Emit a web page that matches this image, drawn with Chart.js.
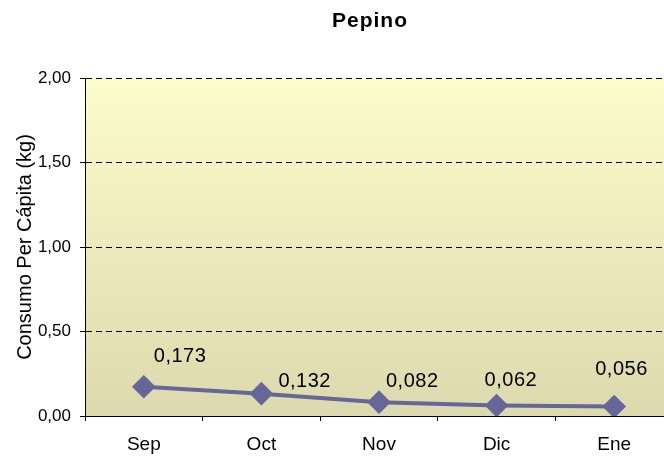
<!DOCTYPE html>
<html>
<head>
<meta charset="utf-8">
<script src="https://cdn.jsdelivr.net/npm/chart.js@4/dist/chart.umd.min.js"></script>
<style>
    html, body { margin: 0; padding: 0; background: #fff; overflow: hidden; width: 664px; height: 461px; }
    canvas { display: block; }
</style>
</head>
<body>
<canvas id="pepinoChart" width="673" height="461"></canvas>
<script>
    // 資料
    const months = ['Sep', 'Oct', 'Nov', 'Dic', 'Ene'];
    const consumo = [0.173, 0.132, 0.082, 0.062, 0.056];
    const yTicks = [0, 0.5, 1, 1.5, 2];

    // 標籤偏移 (px)
    const labelOffset = [[10, -30], [17, -12], [7, -21], [-12, -25], [-19, -37]];

    const lineColor = '#666699';
    const fontFamily = '"Liberation Sans", Arial, sans-serif';
    const fmt = v => v.toFixed(2).replace('.', ',');

    // 背景漸層
    const bgPlugin = {
        id: 'bgGradient',
        beforeDraw(chart) {
            const { ctx, chartArea: a } = chart;
            const g = ctx.createLinearGradient(0, a.top, 0, a.bottom);
            g.addColorStop(0, '#FDFCCB');
            g.addColorStop(1, '#DCD9AE');
            ctx.save();
            ctx.fillStyle = g;
            ctx.fillRect(a.left, a.top, a.right - a.left, a.bottom - a.top);
            ctx.restore();
        }
    };

    // 標題與資料標籤
    const textPlugin = {
        id: 'texts',
        afterDraw(chart) {
            const { ctx } = chart;
            ctx.save();
            ctx.fillStyle = '#000';
            ctx.font = 'bold 21px ' + fontFamily;
            ctx.textAlign = 'center';
            ctx.textBaseline = 'middle';
            ctx.letterSpacing = '1px';
            ctx.fillText('Pepino', 370, 21);

            ctx.font = '20px ' + fontFamily;
            ctx.textAlign = 'left';
            ctx.letterSpacing = '0.5px';
            const meta = chart.getDatasetMeta(0);
            meta.data.forEach((pt, i) => {
                const s = consumo[i].toFixed(3).replace('.', ',');
                ctx.fillText(s, pt.x + labelOffset[i][0], pt.y + labelOffset[i][1]);
            });
            ctx.restore();
        }
    };

    const chart = new Chart(document.getElementById('pepinoChart'), {
        type: 'line',
        data: {
            labels: months,
            datasets: [{
                data: consumo,
                borderColor: lineColor,
                backgroundColor: lineColor,
                borderWidth: 4,
                pointStyle: 'rectRot',
                pointRadius: 9,
                pointHoverRadius: 9,
                pointBackgroundColor: lineColor,
                pointBorderColor: lineColor,
                tension: 0
            }]
        },
        options: {
            responsive: false,
            animation: false,
            layout: { autoPadding: false, padding: { top: 78, left: 0, right: 0, bottom: 0 } },
            plugins: {
                legend: { display: false },
                tooltip: { enabled: false }
            },
            scales: {
                x: {
                    offset: true,
                    grid: {
                        offset: true,
                        drawOnChartArea: false,
                        tickLength: 5,
                        tickColor: '#000'
                    },
                    border: { color: '#000', width: 1 },
                    ticks: {
                        color: '#000',
                        padding: 12,
                        font: { family: fontFamily, size: 19 }
                    },
                    afterFit: s => {
                        s.height = 45;
                        s.paddingLeft = 0;
                        s.paddingRight = 0;
                    }
                },
                y: {
                    min: 0,
                    max: 2,
                    afterBuildTicks: s => { s.ticks = yTicks.map(v => ({ value: v })); },
                    grid: {
                        color: '#000',
                        tickLength: 5,
                        tickColor: '#000'
                    },
                    border: { color: '#000', width: 1, dash: [6, 4] },
                    ticks: {
                        color: '#000',
                        padding: 9,
                        callback: v => fmt(v),
                        font: { family: fontFamily, size: 17 }
                    },
                    title: {
                        display: true,
                        text: 'Consumo Per Cápita (kg)',
                        color: '#000',
                        padding: { top: 13, bottom: 0 },
                        font: { family: fontFamily, size: 20 }
                    },
                    afterFit: s => { s.width = 85; }
                }
            }
        },
        plugins: [bgPlugin, textPlugin]
    });
</script>
</body>
</html>
